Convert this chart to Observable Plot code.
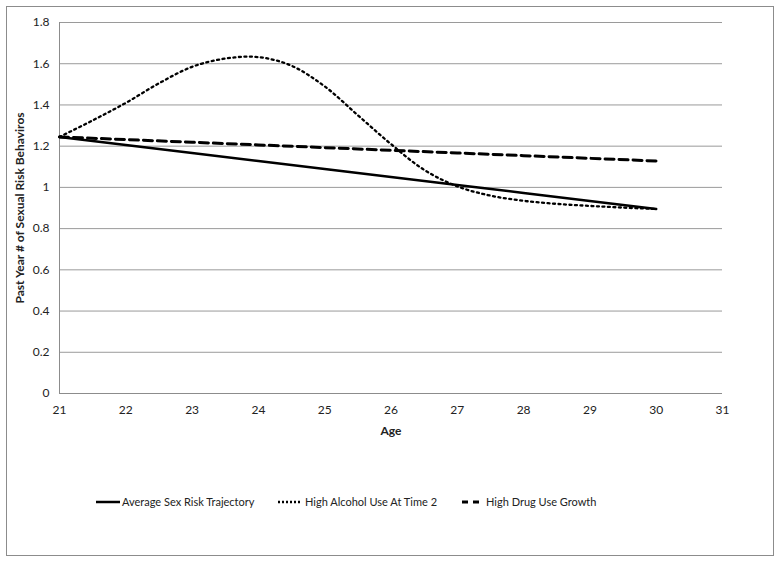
<!DOCTYPE html>
<html>
<head>
<meta charset="utf-8">
<script src="https://cdn.jsdelivr.net/npm/d3@7"></script>
<script src="https://cdn.jsdelivr.net/npm/@observablehq/plot@0.6"></script>
<style>
  body { margin: 0; background: #fff; font-family: Lato, "Open Sans", sans-serif; }
  #frame { position: absolute; left: 6px; top: 6px; width: 766px; height: 548px; border: 1px solid #8c8c8c; }
  #chart { position: absolute; left: 0; top: 0; }
  #legend { position: absolute; left: 0; top: 490px; }
</style>
</head>
<body>
<div id="frame"></div>
<div id="chart"></div>
<div id="legend"></div>
<script>
const seriesNames = ["Average Sex Risk Trajectory", "High Alcohol Use At Time 2", "High Drug Use Growth"];
const ages = [21, 22, 23, 24, 25, 26, 27, 28, 29, 30];
const averageRisk = [1.245, 1.206, 1.167, 1.128, 1.089, 1.050, 1.012, 0.973, 0.934, 0.895];
const drugRisk = [1.245, 1.232, 1.219, 1.206, 1.193, 1.180, 1.167, 1.154, 1.141, 1.128];
const alcoholAges = [21, 21.5, 22, 22.5, 23, 23.5, 24, 24.5, 25, 25.5, 26, 26.5, 27, 27.5, 28, 28.5, 29, 29.5, 30];
const alcoholRisk = [1.245, 1.325, 1.41, 1.505, 1.585, 1.625, 1.632, 1.59, 1.49, 1.35, 1.21, 1.085, 1.005, 0.96, 0.935, 0.92, 0.91, 0.902, 0.895];
const xTicks = [21, 22, 23, 24, 25, 26, 27, 28, 29, 30, 31];
const yTicks = [0, 0.2, 0.4, 0.6, 0.8, 1, 1.2, 1.4, 1.6, 1.8];

const avgData = ages.map((a, i) => ({age: a, v: averageRisk[i]}));
const drugData = ages.map((a, i) => ({age: a, v: drugRisk[i]}));
const alcData = alcoholAges.map((a, i) => ({age: a, v: alcoholRisk[i]}));

const fontFam = "Lato, 'Open Sans', sans-serif";

const plot = Plot.plot({
  width: 782,
  height: 440,
  marginLeft: 59,
  marginRight: 60,
  marginTop: 22,
  marginBottom: 47,
  style: {fontFamily: fontFam, fontSize: "12px", color: "#222", background: "transparent"},
  x: {domain: [21, 31], ticks: xTicks, tickSize: 0, tickPadding: 12, label: null},
  y: {domain: [0, 1.8], ticks: yTicks, tickSize: 0, tickPadding: 10, label: null, tickFormat: d => String(+d.toFixed(1))},
  marks: [
    Plot.gridY(yTicks, {stroke: "#9a9a9a", strokeOpacity: 1, strokeWidth: 1}),
    Plot.ruleX([21], {stroke: "#8c8c8c", strokeWidth: 1}),
    Plot.ruleY([0], {stroke: "#8c8c8c", strokeWidth: 1}),
    Plot.axisX({ticks: xTicks, tickSize: 0, tickPadding: 12, fontSize: 12}),
    Plot.axisY({ticks: yTicks, tickSize: 0, tickPadding: 10, fontSize: 12, tickFormat: d => String(+d.toFixed(1))}),
    Plot.lineY(avgData, {x: "age", y: "v", stroke: "#000", strokeWidth: 2.5}),
    Plot.lineY(drugData, {x: "age", y: "v", stroke: "#000", strokeWidth: 3, strokeDasharray: "9,5"}),
    Plot.lineY(alcData, {x: "age", y: "v", stroke: "#000", strokeWidth: 2.3, strokeDasharray: "2,3.5", curve: "catmull-rom"}),
    Plot.text(["Age"], {fontWeight: "bold", fontSize: 12, x: 26, y: 0, dy: 38}),
    Plot.text(["Past Year # of Sexual Risk Behaviros"], {frameAnchor: "left", textAnchor: "middle", rotate: -90, fontWeight: "bold", fontSize: 12, dx: -39})
  ]
});
document.getElementById("chart").appendChild(plot);

// legend
const styles = [
  {dash: null, w: 2.5, x0: 96, x1: 120, tx: 122},
  {dash: "2,2", w: 2.3, x0: 278, x1: 301, tx: 305},
  {dash: "6,5", w: 3, x0: 462, x1: 482, tx: 486}
];
const lsvg = d3.create("svg").attr("width", 782).attr("height", 24);
seriesNames.forEach((name, i) => {
  const s = styles[i];
  lsvg.append("line").attr("x1", s.x0).attr("x2", s.x1).attr("y1", 12).attr("y2", 12)
    .attr("stroke", "#000").attr("stroke-width", s.w).attr("stroke-dasharray", s.dash);
  lsvg.append("text").attr("x", s.tx).attr("y", 12).attr("dy", "0.35em")
    .attr("font-family", fontFam).attr("font-size", 11).attr("fill", "#222").text(name);
});
document.getElementById("legend").appendChild(lsvg.node());
</script>
</body>
</html>
